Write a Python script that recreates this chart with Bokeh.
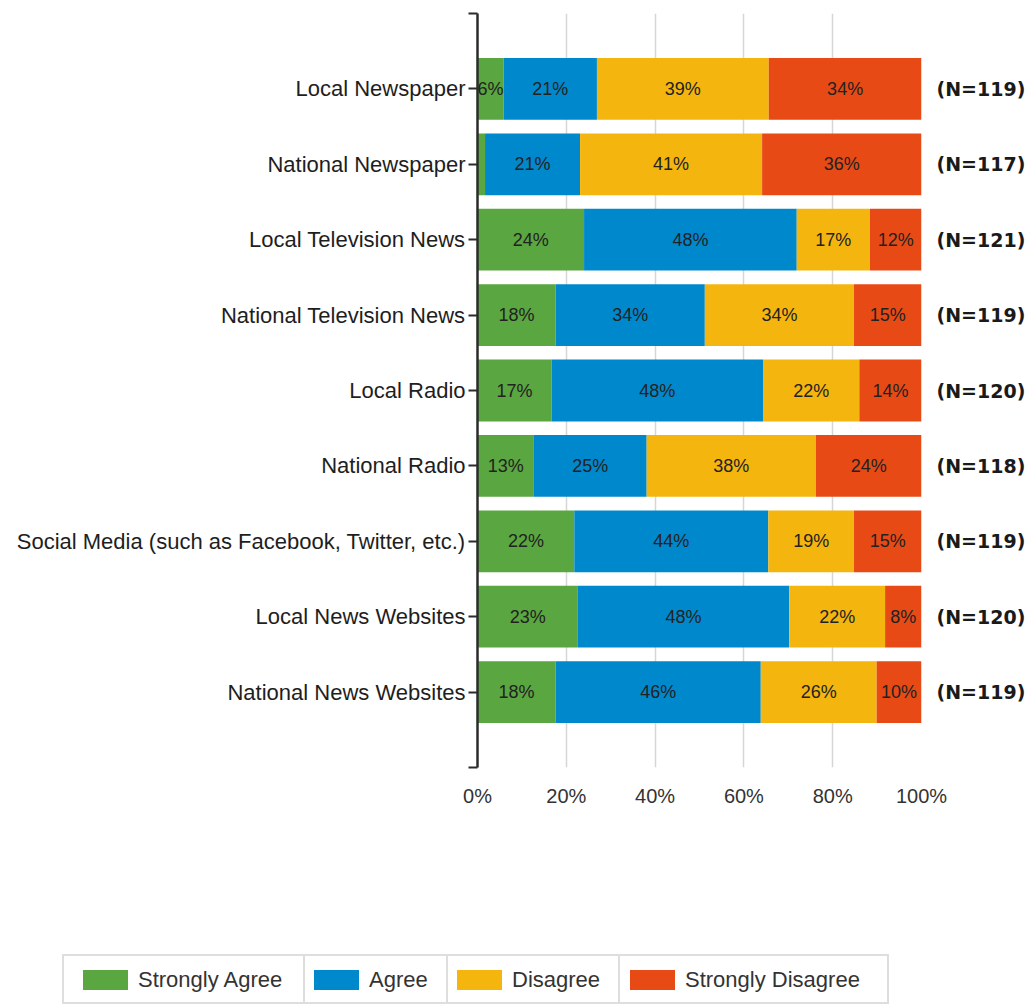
from bokeh.plotting import figure
from bokeh.models import (Range1d, FixedTicker, LinearAxis, ColumnDataSource, Div)
from bokeh.layouts import column
from bokeh.core.properties import value
from bokeh.embed import file_html
from bokeh.resources import INLINE

categories = ["Local Newspaper", "National Newspaper", "Local Television News",
              "National Television News", "Local Radio", "National Radio",
              "Social Media (such as Facebook, Twitter, etc.)",
              "Local News Websites", "National News Websites"]
n_labels = ["(N=119)", "(N=117)", "(N=121)", "(N=119)", "(N=120)",
            "(N=118)", "(N=119)", "(N=120)", "(N=119)"]
series = ["Strongly Agree", "Agree", "Disagree", "Strongly Disagree"]
strongly_agree = [5.9, 1.7, 24.0, 17.6, 16.7, 12.7, 21.8, 22.6, 17.6]
agree = [21.0, 21.4, 47.9, 33.6, 47.6, 25.4, 43.7, 47.6, 46.2]
disagree = [38.7, 41.0, 16.5, 33.6, 21.7, 38.1, 19.3, 21.6, 26.1]
strongly_disagree = [34.4, 35.9, 11.6, 15.2, 14.0, 23.8, 15.2, 8.2, 10.1]
x_ticks = [0, 20, 40, 60, 80, 100]
x_tick_labels = ["0%", "20%", "40%", "60%", "80%", "100%"]
colors = ["#5aa640", "#0088cc", "#f4b60e", "#e84a16"]

FONT = "Liberation Sans"
rows = list(range(1, len(categories) + 1))
values = [strongly_agree, agree, disagree, strongly_disagree]
data = {"row": rows}
for name, vals in zip(series, values):
    data[name] = vals
src = ColumnDataSource(data)

p = figure(frame_width=444, frame_height=754,
           x_range=Range1d(0, 100), y_range=Range1d(len(categories) + 1, 0),
           output_backend="svg", toolbar_location=None,
           min_border_left=477, min_border_right=111,
           min_border_top=13, min_border_bottom=173,
           x_axis_location="below", y_axis_location="left")
p.outline_line_color = None
p.background_fill_color = "white"

renderers = p.hbar_stack(series, y="row", height=0.82, color=colors,
                         line_color=None, source=src)

# segment labels
lx, ly, lt = [], [], []
for i, r in enumerate(rows):
    cum = 0.0
    for vals in values:
        v = vals[i]
        if v >= 5:
            lx.append(cum + v / 2)
            ly.append(r)
            lt.append(f"{int(v + 0.5)}%")
        cum += v
lab_src = ColumnDataSource(dict(x=lx, y=ly, text=lt))
p.text(x="x", y="y", text="text", source=lab_src, text_align="center",
       text_baseline="middle", text_font_size="18px",
       text_font=value(FONT), text_color="#222222")

# x axis
xa = p.xaxis[0]
xa.ticker = FixedTicker(ticks=x_ticks)
xa.major_label_overrides = {t: l for t, l in zip(x_ticks, x_tick_labels)}
xa.axis_line_color = None
xa.major_tick_line_color = None
xa.major_tick_out = 0
xa.major_tick_in = 0
xa.minor_tick_line_color = None
xa.major_label_standoff = 17
xa.major_label_text_font = FONT
xa.major_label_text_font_size = "20px"
xa.major_label_text_color = "#333333"

p.xgrid.ticker = FixedTicker(ticks=x_ticks)
p.xgrid.grid_line_color = "#d6d6d6"
p.xgrid.grid_line_width = 1.5
p.ygrid.grid_line_color = None

# left axis with categories
ya = p.yaxis[0]
ya.ticker = FixedTicker(ticks=[0] + rows + [len(categories) + 1])
overrides = {0: "", len(categories) + 1: ""}
overrides.update({r: c for r, c in zip(rows, categories)})
ya.major_label_overrides = overrides
ya.axis_line_color = "#2b2b2b"
ya.axis_line_width = 2.5
ya.major_tick_line_color = "#2b2b2b"
ya.major_tick_line_width = 2
ya.major_tick_out = 9
ya.major_tick_in = 0
ya.minor_tick_line_color = None
ya.major_label_standoff = 3
ya.major_label_text_font = FONT
ya.major_label_text_font_size = "22px"
ya.major_label_text_color = "#1e1e1e"

# right axis with N
ra = LinearAxis(ticker=FixedTicker(ticks=rows),
                major_label_overrides={r: n for r, n in zip(rows, n_labels)})
ra.axis_line_color = None
ra.major_tick_line_color = None
ra.major_tick_out = 0
ra.major_tick_in = 0
ra.minor_tick_line_color = None
ra.major_label_standoff = 15
ra.major_label_text_font = "DejaVu Sans"
ra.major_label_text_font_style = "bold"
ra.major_label_text_font_size = "19px"
ra.major_label_text_color = "#1a1a1a"
p.add_layout(ra, "right")

# legend: bordered table of swatches below the chart
cell_widths = [241, 143, 172, 269]
cell_pad = [19, 9, 9, 10]
cells = ""
for name, c, w, pad in zip(series, colors, cell_widths, cell_pad):
    cells += (
        f'<td style="width:{w}px;box-sizing:border-box;border:2px solid #dedede;'
        f'padding:0 0 0 {pad}px;height:48px;white-space:nowrap;vertical-align:middle;">'
        f'<span style="display:inline-block;width:45px;height:20px;background:{c};'
        f'vertical-align:middle;margin-right:10px;"></span>'
        f'<span style="vertical-align:middle;">{name}</span></td>'
    )
legend_html = (
    '<div style="position:relative;width:1032px;height:65px;">'
    '<table style="position:absolute;left:62px;top:14px;border-collapse:collapse;'
    f'table-layout:fixed;font-family:\'{FONT}\';font-size:22px;color:#333333;'
    'background:white;">'
    f'<tr>{cells}</tr></table></div>'
)
legend_div = Div(text=legend_html, width=1032, height=65, margin=(0, 0, 0, 0))

layout = column(p, legend_div, spacing=0)
open("out.html", "w").write(file_html(layout, INLINE))
